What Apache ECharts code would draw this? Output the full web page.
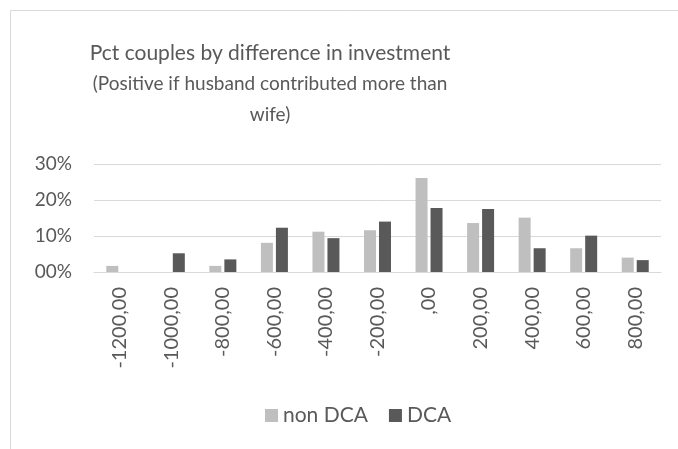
<!DOCTYPE html>
<html>
<head>
<meta charset="utf-8">
<script src="https://cdn.jsdelivr.net/npm/echarts@6/dist/echarts.min.js"></script>
<style>
    html, body { margin: 0; padding: 0; background: #fff; }
    #chart { width: 678px; height: 449px; }
</style>
</head>
<body>
<div id="chart"></div>
<script>
// categories (difference in investment)
const categories = ['-1200,00', '-1000,00', '-800,00', '-600,00', '-400,00', '-200,00', ',00', '200,00', '400,00', '600,00', '800,00'];
// percent of couples
const nonDca = [1.7, 0, 1.7, 8.1, 11.2, 11.6, 26.1, 13.6, 15.1, 6.6, 4.0];
const dca = [0, 5.2, 3.5, 12.3, 9.4, 14.0, 17.8, 17.5, 6.6, 10.1, 3.3];
const yTickLabels = ['00%', '10%', '20%', '30%'];

const txt = '#595959';
const font = 'Lato, "Open Sans", sans-serif';

const myChart = echarts.init(document.getElementById('chart'));
const option = {
    animation: false,
    textStyle: { fontFamily: font },
    graphic: [{
        type: 'rect',
        shape: { x: 10.5, y: 10.5, width: 700, height: 500 },
        style: { fill: 'none', stroke: '#d9d9d9', lineWidth: 1 },
        silent: true
    }],
    title: {
        text: 'Pct couples by difference in investment',
        subtext: '(Positive if husband contributed more than\nwife)',
        left: 265,
        top: 38,
        textAlign: 'center',
        itemGap: 4,
        textStyle: { color: txt, fontSize: 21, fontWeight: 'normal', fontFamily: font },
        subtextStyle: { color: txt, fontSize: 19, lineHeight: 31, fontFamily: font }
    },
    legend: {
        data: ['non DCA', 'DCA'],
        left: 260,
        top: 400,
        icon: 'rect',
        itemWidth: 13,
        itemHeight: 13,
        itemGap: 21,
        textStyle: { color: txt, fontSize: 21, fontFamily: font }
    },
    grid: {
        left: 94,
        right: 17,
        top: 164,
        bottom: 177
    },
    xAxis: {
        type: 'category',
        data: categories,
        axisLine: { lineStyle: { color: '#d9d9d9', width: 1 } },
        axisTick: { show: false },
        axisLabel: {
            rotate: 90,
            margin: 15,
            interval: 0,
            color: txt,
            fontSize: 20,
            fontFamily: font
        }
    },
    yAxis: {
        type: 'value',
        min: 0,
        max: 30,
        interval: 10,
        axisLine: { show: false },
        axisTick: { show: false },
        splitLine: { lineStyle: { color: '#d9d9d9', width: 1 } },
        axisLabel: {
            margin: 22,
            color: txt,
            fontSize: 19,
            fontFamily: font,
            formatter: function (v) {
                return yTickLabels[Math.round(v / 10)];
            }
        }
    },
    series: [{
        name: 'non DCA',
        type: 'bar',
        data: nonDca,
        barWidth: 12,
        barGap: '25%',
        itemStyle: { color: '#bfbfbf' }
    }, {
        name: 'DCA',
        type: 'bar',
        data: dca,
        barWidth: 12,
        barGap: '25%',
        itemStyle: { color: '#595959' }
    }]
};
myChart.setOption(option);
</script>
</body>
</html>
